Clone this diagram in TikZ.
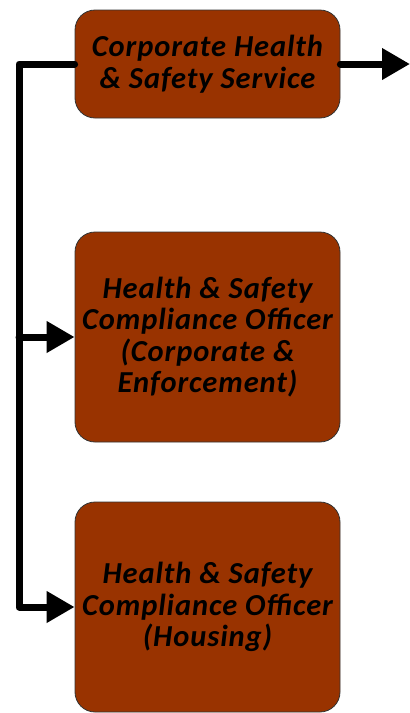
\documentclass[tikz,border=0pt]{standalone}
\usepackage{fontspec}
\setmainfont{Carlito}
\usepackage{tikz}
\usetikzlibrary{arrows.meta}

\definecolor{rust}{HTML}{993300}

\tikzset{
  unit/.style={draw=black!80, line width=0.8pt, fill=rust, rounded corners=20pt,
    minimum width=265pt, align=center, inner sep=0pt,
    font=\fontsize{30.5}{31.5}\selectfont\bfseries\itshape\addfontfeature{LetterSpace=3}},
  link/.style={line width=7pt, line cap=round, line join=round,
    -{Triangle[length=28pt,width=30pt]}}
}

\begin{document}
\begin{tikzpicture}[x=1pt,y=-1pt]
            \useasboundingbox (0,0) rectangle (410,713);
            \path 
            (207.5,64)   node[unit, minimum height=108pt] (service) {Corporate Health\\\& Safety Service}
            (207.5,337)  node[unit, minimum height=210pt] (enforce) {Health \& Safety\\Compliance Officer\\(Corporate \&\\Enforcement)}
            (207.5,607)  node[unit, minimum height=210pt] (housing) {Health \& Safety\\Compliance Officer\\(Housing)};
            \coordinate (out) at (410,64);
            \coordinate (trunk) at (19,64);
            \draw[link] (service.east)--(out);
            \draw[link] (service.west)--(trunk) |- (housing.west);
            \draw[link] (trunk |- enforce.west)--(enforce.west);
            \end{tikzpicture}
\end{document}
